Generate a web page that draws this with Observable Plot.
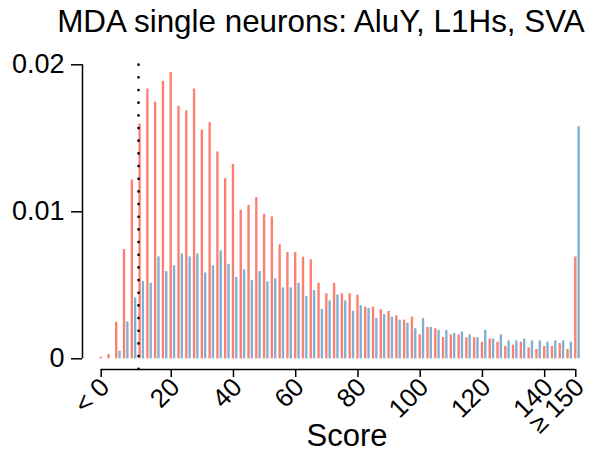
<!DOCTYPE html>
<html>
<head>
<meta charset="utf-8">
<script src="https://cdn.jsdelivr.net/npm/d3@7"></script>
<script src="https://cdn.jsdelivr.net/npm/@observablehq/plot@0.6"></script>
<style>
  html, body { margin: 0; padding: 0; background: #fff; }
  body { width: 601px; height: 453px; overflow: hidden; font-family: "Liberation Sans", Arial, Helvetica, sans-serif; color: #000; }
  #title { height: 44px; line-height: 44px; font-size: 31.4px; text-align: center; padding-left: 41px; box-sizing: border-box; width: 601px; white-space: nowrap; }
  #xlabel { height: 35px; line-height: 35px; font-size: 31px; text-align: center; padding-left: 93px; box-sizing: border-box; width: 601px; }
  svg { display: block; overflow: visible; }
</style>
</head>
<body>
<div id="title">MDA single neurons: AluY, L1Hs, SVA</div>
<div id="chart"></div>
<div id="xlabel">Score</div>
<script>
// Score bins (first = "< 0", last = "≥ 150")
const bins = [-2.5, 0, 2.5, 5, 7.5, 10, 12.5, 15, 17.5, 20, 22.5, 25, 27.5, 30, 32.5, 35, 37.5, 40, 42.5, 45, 47.5,
  50, 52.5, 55, 57.5, 60, 62.5, 65, 67.5, 70, 72.5, 75, 77.5, 80, 82.5, 85, 87.5, 90, 92.5, 95, 97.5,
  100, 102.5, 105, 107.5, 110, 112.5, 115, 117.5, 120, 122.5, 125, 127.5, 130, 132.5, 135, 137.5, 140, 142.5, 145, 147.5, 150];

// red series (density)
const redValues = [0.00011, 0.00029, 0.00249, 0.00743, 0.01216, 0.01597, 0.01835, 0.01746, 0.01887, 0.01948, 0.01717,
  0.01687, 0.01835, 0.01556, 0.01606, 0.01407, 0.01225, 0.01323, 0.01012, 0.01044, 0.01096,
  0.00983, 0.00965, 0.00775, 0.00723, 0.00723, 0.00691, 0.00673, 0.00514, 0.00442, 0.00514,
  0.00442, 0.00442, 0.00433, 0.00351, 0.00351, 0.00333, 0.00322, 0.00292, 0.00263, 0.00283,
  0.00163, 0.00213, 0.00204, 0.00145, 0.00163, 0.00163, 0.00143, 0.00143, 0.00113, 0.00134,
  0.00113, 0.00084, 0.00093, 0.00113, 0.00075, 0.00063, 0.00084, 0.00084, 0.00104, 0.00063, 0.00693];

// blue series (density)
const blueValues = [0, 0, 0.00052, 0.00251, 0.00414, 0.00525, 0.00514, 0.00693, 0.00593, 0.00632, 0.00713,
  0.00693, 0.00713, 0.00584, 0.00632, 0.00734, 0.00643, 0.00553, 0.00605, 0.00532, 0.00593,
  0.00523, 0.00544, 0.00482, 0.00482, 0.00514, 0.00424, 0.00464, 0.00335, 0.00394, 0.00433,
  0.00394, 0.00324, 0.00362, 0.00342, 0.00274, 0.00301, 0.00283, 0.00263, 0.00242, 0.00204,
  0.00274, 0.00213, 0.00193, 0.00193, 0.00172, 0.00183, 0.00163, 0.00143, 0.00193, 0.00134,
  0.00163, 0.00122, 0.00122, 0.00134, 0.00122, 0.00122, 0.00113, 0.00122, 0.00122, 0.00113, 0.01579];

const xTicks = [-2.5, 20, 40, 60, 80, 100, 120, 140, 150];
const xTickLabels = ["< 0", "20", "40", "60", "80", "100", "120", "140", "\u2265 150"];
const yTicks = [0, 0.01, 0.02];
const yTickLabels = ["0", "0.01", "0.02"];
const threshold = 9.5;

const redColor = "#FB8072";
const blueColor = "#80B1D3";

const data = bins.map((b, i) => ({bin: b, red: redValues[i], blue: blueValues[i]}));
const tickData = xTicks.map((t, i) => ({t, label: xTickLabels[i]}));

const font = "'Liberation Sans', Arial, Helvetica, sans-serif";

const chart = Plot.plot({
  width: 601,
  height: 374,
  marginLeft: 100.7,
  marginRight: 25.7,
  marginTop: 20.3,
  marginBottom: 59.7,
  x: {domain: [-2.5, 150], axis: null},
  y: {domain: [0, 0.02], axis: null},
  style: {fontFamily: font, background: "white", overflow: "visible", color: "black"},
  marks: [
    Plot.rect(data, {x1: d => d.bin - 0.38, x2: d => d.bin + 0.38, y1: 0, y2: "red", fill: redColor}),
    Plot.rect(data, {x1: d => d.bin + 0.69, x2: d => d.bin + 1.45, y1: 0, y2: "blue", fill: blueColor}),
    Plot.ruleX([threshold], {stroke: "black", strokeWidth: 2.7, strokeDasharray: "0,12.67", strokeLinecap: "round", insetTop: 0.4, insetBottom: -10.7}),
    // y axis
    Plot.ruleX([-2.5], {y1: 0, y2: 0.02, dx: -18.7, stroke: "black", strokeWidth: 1.5}),
    Plot.axisY({ticks: yTicks, tickFormat: (d, i) => yTickLabels[i], dx: -18.7, tickSize: 11, tickPadding: 7, fontSize: 27, strokeWidth: 1.5, label: null}),
    // x axis
    Plot.ruleY([0], {x1: -2.5, x2: 150, dy: 10.7, stroke: "black", strokeWidth: 1.5}),
    Plot.axisX({ticks: xTicks, tickFormat: () => "", dy: 10.7, tickSize: 8, strokeWidth: 1.5, label: null}),
    Plot.text(tickData, {x: "t", text: "label", frameAnchor: "bottom", rotate: -45, textAnchor: "end", lineAnchor: "middle", dx: 4, dy: 24, fontSize: 26, fill: "black"})
  ]
});
document.getElementById("chart").appendChild(chart);
</script>
</body>
</html>
